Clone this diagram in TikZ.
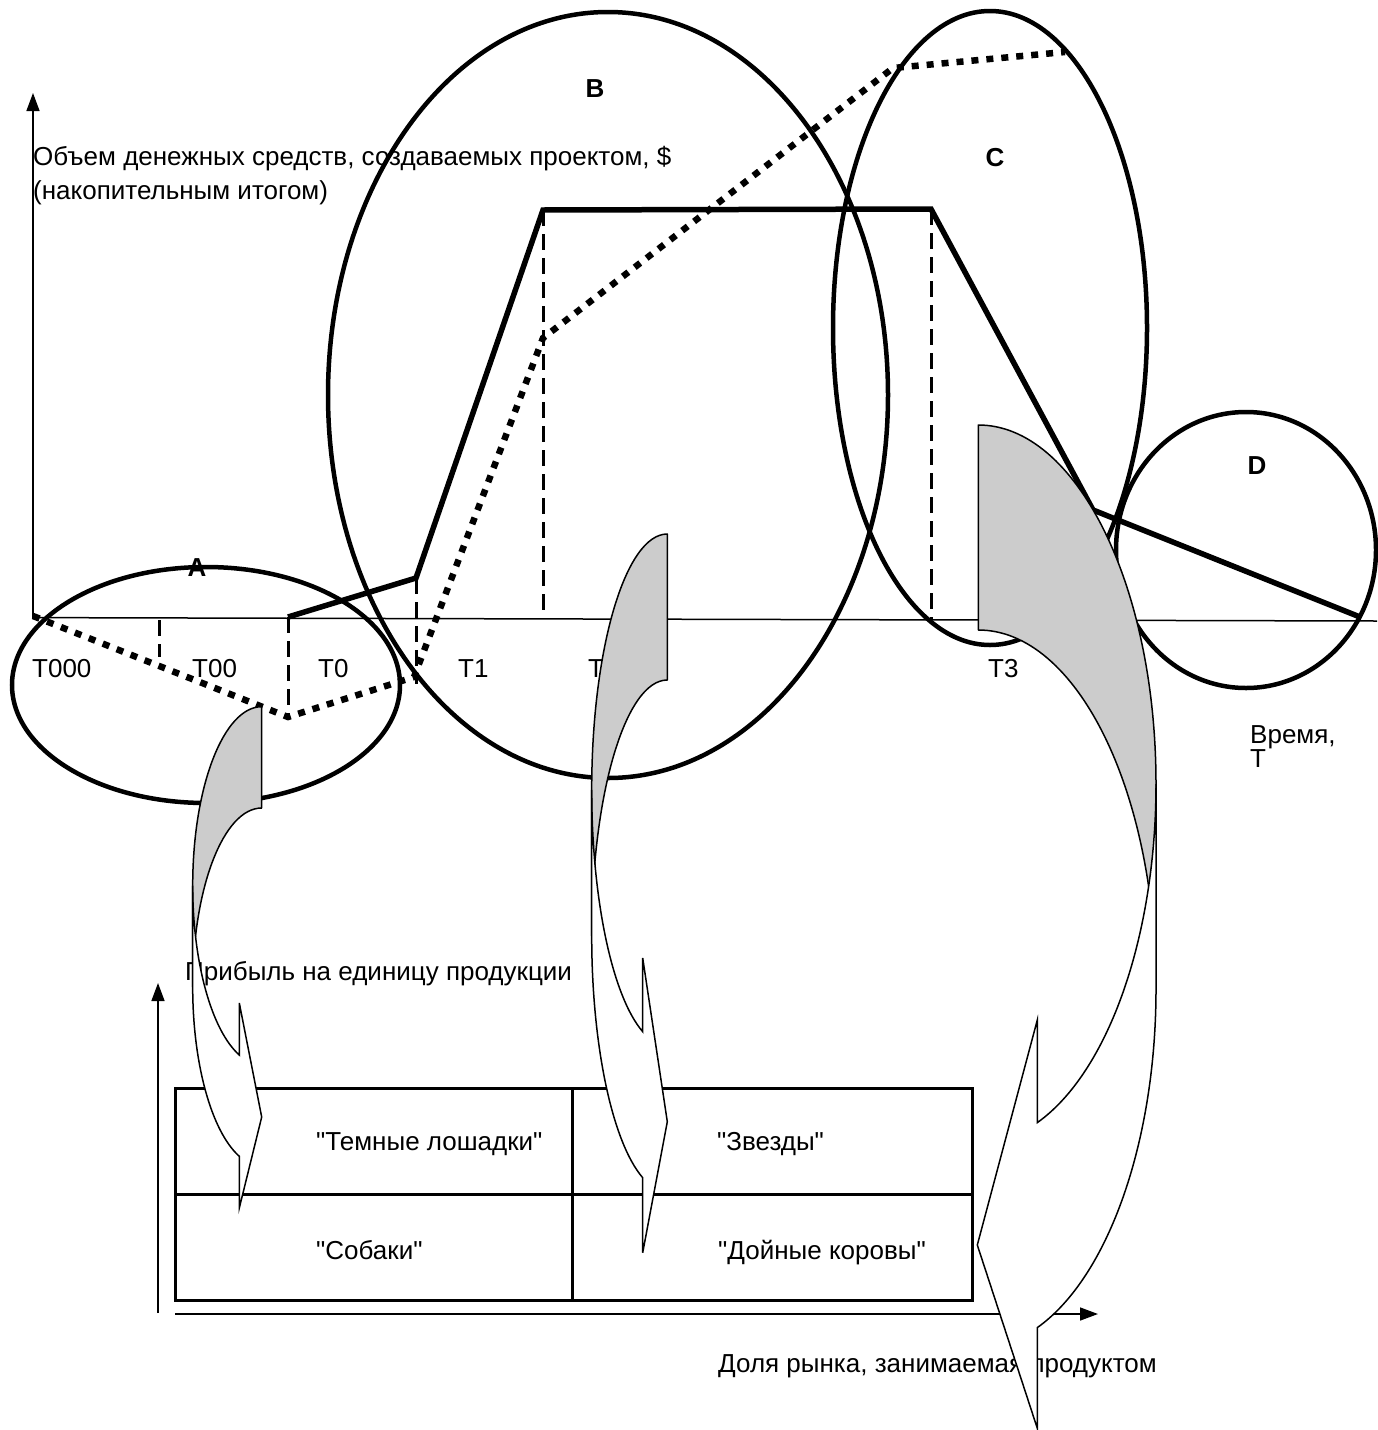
\documentclass[tikz,border=0pt]{standalone}
\usepackage{fontspec}
\setmainfont{Liberation Sans}[Ligatures=TeXOff]
\usetikzlibrary{arrows.meta}
\begin{document}
\begin{tikzpicture}[x=1pt,y=-1pt,
  lbl/.style={font=\fontsize{26}{30}\selectfont, inner sep=0pt, anchor=base west},
  bold/.style={font=\fontsize{26}{30}\selectfont\bfseries, inner sep=0pt},
  oval/.style={line width=4.5pt},
  cash/.style={line width=5.5pt, line join=miter},
  dotline/.style={line width=6.5pt, dash pattern=on 7pt off 8pt},
  dashline/.style={line width=3pt, dash pattern=on 16pt off 8pt},
  axis/.style={line width=1.5pt},
  axisarrow/.style={line width=1.5pt, -{Triangle[length=18pt,width=13pt]}},
  back/.style={fill=black!20, draw=black, line width=1.5pt, line join=round},
  front/.style={fill=white, draw=black, line width=1.5pt, line join=miter},
  grid/.style={line width=3pt}]
\useasboundingbox (0,0) rectangle (1377,1430);

% ellipses
\draw[oval] (206,685) ellipse [x radius=194, y radius=118];
\draw[oval] (608,395) ellipse [x radius=280, y radius=383];
\draw[oval] (990,328) ellipse [x radius=157, y radius=317];
\draw[oval] (1246,550) ellipse [x radius=130, y radius=138];

% axes (upper chart)
\coordinate (O) at (33,617.6);
\coordinate (Ytop) at (33,93);
\coordinate (Xend) at (1377,621);
\draw[axisarrow] (O) -- (Ytop);
\draw[axis] (O) -- (Xend);

% key points
\coordinate (p0) at (288,617);
\coordinate (p1) at (416,578);
\coordinate (p2) at (543,210);
\coordinate (p3) at (931,209);
\coordinate (p4) at (1093,510);
\coordinate (p5) at (1360,617);
\coordinate (d0) at (33,616);
\coordinate (d1) at (288,717);
\coordinate (d2) at (414,677);
\coordinate (d3) at (543,338);
\coordinate (d4) at (893,68);
\coordinate (d5) at (1065,52);

% dashed verticals
\coordinate (t00) at (159,620);
\coordinate (t00b) at (159,657);
\draw[dashline] (t00) -- (t00b);
\draw[dashline] (p0) -- (d1);
\draw[dashline] (p1) -- (416,684);
\draw[dashline] (p2) -- (543,617);
\draw[dashline] (p3) -- (931,619);

% cash line
\draw[cash] (p0) -- (p1) -- (p2) -- (p3) -- (p4) -- (p5);
% dotted line
\draw[dotline] (d0) -- (d1) -- (d2) -- (d3) -- (d4) -- (d5);

% labels
\node[bold] (lA) at (197,568) {A};
\node[bold] (lB) at (595,89) {B};
\node[bold] (lC) at (995,158) {C};
\node[bold] (lD) at (1257,466) {D};
\node[lbl] (T000) at (32,677) {T000};
\node[lbl] (T00) at (192,677) {T00};
\node[lbl] (T0) at (318,677) {T0};
\node[lbl] (T1) at (458,677) {T1};
\node[lbl] (T2) at (588,677) {T2};
\node[lbl] (T3) at (988,677) {T3};
\node[lbl] (ylab1) at (33,165) {Объем денежных средств, создаваемых проектом, \$};
\node[lbl] (ylab2) at (33,199) {(накопительным итогом)};
\node[lbl, font=\fontsize{26}{24}\selectfont, align=left] (tlab) at (1250,767) {Время,\\T};

% lower chart
\coordinate (O2) at (158,1313);
\coordinate (Y2top) at (158,983);
\coordinate (X2s) at (175,1314);
\coordinate (X2end) at (1098,1314);
\draw[axisarrow] (O2) -- (Y2top);
\draw[axisarrow] (X2s) -- (X2end);
\node[lbl] (plab) at (185,980) {Прибыль на единицу продукции};
\node[lbl] (mlab) at (718,1372) {Доля рынка, занимаемая продуктом};

\draw[grid] (175,1088) rectangle (972,1300);
\draw[grid] (175,1194) -- (972,1194);
\draw[grid] (572,1088) -- (572,1300);
\node[lbl] (q1) at (316,1150) {"Темные лошадки"};
\node[lbl] (q2) at (717,1150) {"Звезды"};
\node[lbl] (q3) at (316,1259) {"Собаки"};
\node[lbl] (q4) at (718,1259) {"Дойные коровы"};

% curved arrows
\draw[back] (261.7,808) arc[start angle=-90, end angle=-180, x radius=69, y radius=179]
  -- (192.7,885.7) arc[start angle=180, end angle=270, x radius=69, y radius=179] -- cycle;
\draw[front] (192.7,885.7) arc[start angle=180, end angle=108.94, x radius=69, y radius=179]
  -- (239.3,1003) -- (261.7,1117) -- (239.3,1208) -- (239.3,1156.3)
  arc[start angle=108.94, end angle=180, x radius=69, y radius=179] -- cycle;

\draw[back] (667.3,680) arc[start angle=-90, end angle=-180, x radius=75.6, y radius=255.8]
  -- (591.7,789.8) arc[start angle=180, end angle=270, x radius=75.6, y radius=255.8] -- cycle;
\draw[front] (591.7,789.8) arc[start angle=180, end angle=108.99, x radius=75.6, y radius=255.8]
  -- (642.7,958) -- (667.3,1121.7) -- (642.7,1252.7) -- (642.7,1177.7)
  arc[start angle=108.99, end angle=180, x radius=75.6, y radius=255.8] -- cycle;

\draw[back] (978.3,630) arc[start angle=-90, end angle=0, x radius=177.7, y radius=359]
  -- (1156,784) arc[start angle=0, end angle=-90, x radius=177.7, y radius=359] -- cycle;
\draw[front] (1156,784) arc[start angle=0, end angle=70.61, x radius=177.7, y radius=359]
  -- (1037.3,1020) -- (977.3,1245) -- (1037.3,1428.3) -- (1037.3,1327.6)
  arc[start angle=70.61, end angle=0, x radius=177.7, y radius=359] -- cycle;
\end{tikzpicture}
\end{document}
